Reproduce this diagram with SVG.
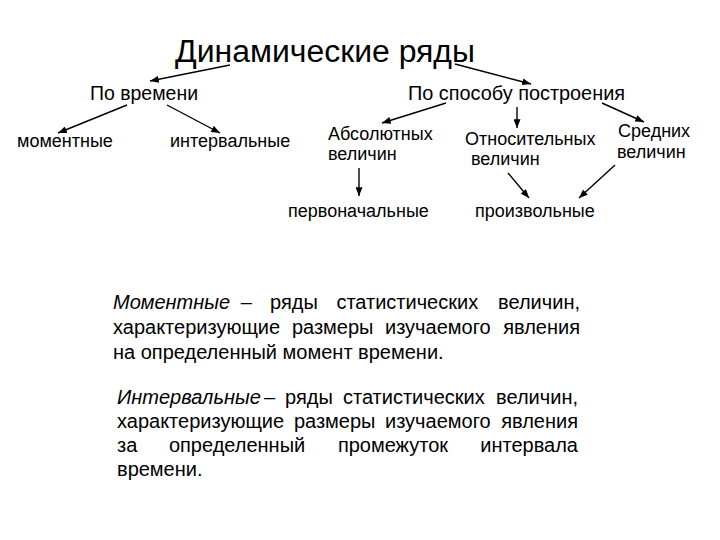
<svg xmlns="http://www.w3.org/2000/svg" width="720" height="540" viewBox="0 0 720 540">
<style>
text{font-family:"Liberation Sans",Arial,sans-serif;fill:#000}
.t{font-size:31px}
.h{font-size:20px}
.n{font-size:18px}
.p{font-size:20px}
.i{font-style:italic}
.c line{stroke:#000;stroke-width:1.4;marker-end:url(#ah)}
</style>
<defs>
<marker id="ah" viewBox="0 0 10 8" refX="10" refY="4" markerWidth="9" markerHeight="7" markerUnits="userSpaceOnUse" orient="auto">
<path d="M0,0 L10,4 L0,8 z" fill="#000"/>
</marker>
</defs>
<rect width="720" height="540" fill="#fff"/>
<g id="root"><text class="t" x="175" y="62" textLength="300" lengthAdjust="spacingAndGlyphs">Динамические ряды</text></g>
<g id="po-vremeni"><text class="h" x="90" y="100" textLength="108" lengthAdjust="spacingAndGlyphs">По времени</text></g>
<g id="po-sposobu"><text class="h" x="408" y="100" textLength="217" lengthAdjust="spacingAndGlyphs">По способу построения</text></g>
<g id="momentnye"><text class="n" x="17" y="147">моментные</text></g>
<g id="intervalnye"><text class="n" x="170" y="147">интервальные</text></g>
<g id="absolutnyh"><text class="n" x="328" y="140">Абсолютных</text><text class="n" x="328" y="160">величин</text></g>
<g id="otnositelnyh"><text class="n" x="465" y="145">Относительных</text><text class="n" x="471" y="165">величин</text></g>
<g id="srednih"><text class="n" x="618" y="137">Средних</text><text class="n" x="617" y="158">величин</text></g>
<g id="pervonachalnye"><text class="n" x="288" y="217">первоначальные</text></g>
<g id="proizvolnye"><text class="n" x="475" y="217">произвольные</text></g>
<g id="connectors" class="c">
<line x1="230" y1="65" x2="150" y2="81"/>
<line x1="455" y1="64" x2="531" y2="84"/>
<line x1="127" y1="105" x2="58" y2="133"/>
<line x1="167" y1="105" x2="220" y2="133"/>
<line x1="446" y1="103" x2="382" y2="123"/>
<line x1="517" y1="107" x2="517" y2="128"/>
<line x1="602" y1="103" x2="644" y2="122"/>
<line x1="359" y1="168" x2="359" y2="196"/>
<line x1="508" y1="173" x2="529" y2="198"/>
<line x1="615" y1="165" x2="579" y2="198"/>
</g>
<g id="def-momentnye">
<text class="p" y="309"><tspan class="i" x="113">Моментные</tspan><tspan x="240.7">–</tspan><tspan x="270.1">ряды</tspan><tspan x="336.4">статистических</tspan></text>
<text class="p" x="580" y="309" text-anchor="end">величин,</text>
<text class="p" y="334"><tspan x="113">характеризующие</tspan><tspan x="291.9">размеры</tspan><tspan x="385">изучаемого</tspan></text>
<text class="p" x="580" y="334" text-anchor="end">явления</text>
<text class="p" x="113" y="359">на определенный момент времени.</text>
</g>
<g id="def-intervalnye">
<text class="p" y="404"><tspan class="i" x="117">Интервальные</tspan><tspan x="264.1">–</tspan><tspan x="285.1">ряды</tspan><tspan x="343">статистических</tspan></text>
<text class="p" x="578" y="404" text-anchor="end">величин,</text>
<text class="p" y="428"><tspan x="117">характеризующие</tspan><tspan x="293.9">размеры</tspan><tspan x="385">изучаемого</tspan></text>
<text class="p" x="578" y="428" text-anchor="end">явления</text>
<text class="p" y="452"><tspan x="117">за</tspan><tspan x="168.9">определенный</tspan><tspan x="337.9">промежуток</tspan></text>
<text class="p" x="578" y="452" text-anchor="end">интервала</text>
<text class="p" x="117" y="476">времени.</text>
</g>
</svg>
